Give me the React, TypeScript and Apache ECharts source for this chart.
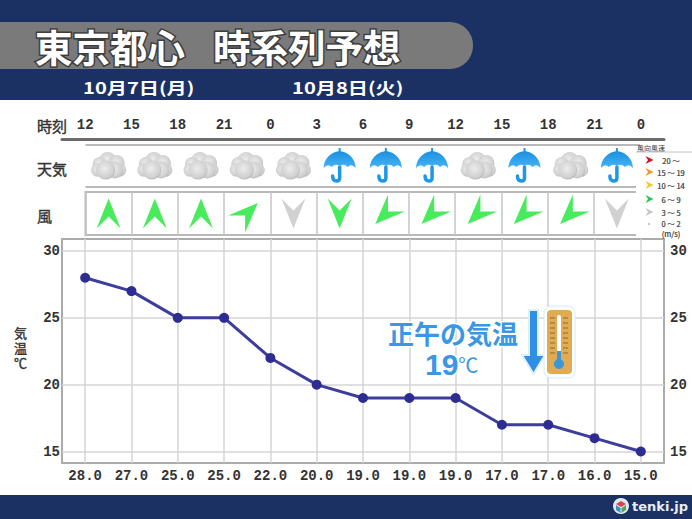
import React, { useEffect, useRef } from "react";
import * as echarts from "echarts";

const HOURS = ["12", "15", "18", "21", "0", "3", "6", "9", "12", "15", "18", "21", "0"];
const TEMPS = [28, 27, 25, 25, 22, 20, 19, 19, 19, 17, 17, 16, 15];
const TEMP_LABELS = ["28.0", "27.0", "25.0", "25.0", "22.0", "20.0", "19.0", "19.0", "19.0", "17.0", "17.0", "16.0", "15.0"];
const WEATHER = ["cloud", "cloud", "cloud", "cloud", "cloud", "rain", "rain", "rain", "cloud", "rain", "cloud", "rain"];
const WIND_DIR = [0, 0, 0, 45, 180, 180, 225, 225, 225, 225, 225, 180];
const WIND_CLASS = [3, 3, 3, 3, 4, 3, 3, 3, 3, 3, 3, 4];
const LEGEND_LABELS = ["20 ～", "15 ～ 19", "10 ～ 14", "6 ～ 9", "3 ～ 5", "0 ～ 2", "(m/s)"];
const LEGEND_COLORS = ["#c4161c", "#f0982a", "#f6c52c", "#22c94a", "#c6c6c6", "#c6c6c6"];
const WIND_COLORS = ["#c4161c", "#f0982a", "#f6c52c", "#19e632", "#c6c6c6", "#c6c6c6"];
const AXIS_TITLE = ["気", "温", "℃"];

const ARROW = "M0,-15 L12,15 L0,3 L-12,15 Z";
const JP = '"Noto Sans CJK JP", sans-serif';
const NUM = '"Liberation Mono", monospace';
const NAVY = "#1b3164";
const INK = "#333333";

const puff = (cx: number, cy: number, r: number) => ({
  type: "circle",
  shape: { cx, cy, r },
  style: {
    fill: new echarts.graphic.RadialGradient(0.45, 0.42, 0.7, [
      { offset: 0, color: "#ececec" },
      { offset: 0.7, color: "#cfcfcf" },
      { offset: 1, color: "#9c9c9c" },
    ]),
  },
});

const cloudIcon = (x: number, y: number) => ({
  type: "group",
  x,
  y,
  children: [
    puff(-1, -5, 9),
    puff(-9, -2, 7),
    puff(8, -3, 8),
    puff(-11, 4, 6.5),
    puff(11, 4, 6.5),
    puff(6, 4, 8.5),
    puff(-3, 4, 9.5),
  ],
});

const rainIcon = (x: number, y: number) => ({
  type: "group",
  x,
  y,
  children: [
    {
      type: "path",
      shape: { pathData: "M0,1 L0,12 Q0,15 -3,15 Q-7,15 -7,10" },
      style: { fill: "none", stroke: "#1f97e6", lineWidth: 3.5, lineCap: "round" },
    },
    {
      type: "path",
      shape: { pathData: "M0,-14 L0,-18" },
      style: { fill: "none", stroke: "#1f97e6", lineWidth: 2 },
    },
    {
      type: "path",
      shape: {
        pathData:
          "M-16,2 C-16,-7 -9,-14 0,-15 C9,-14 16,-7 16,2 Q12,-3 8,1 Q4,-3 0,0 Q-4,-3 -8,1 Q-12,-3 -16,2 Z",
      },
      style: {
        fill: new echarts.graphic.LinearGradient(0, 0, 0, 1, [
          { offset: 0, color: "#1a8fe0" },
          { offset: 1, color: "#47b4f5" },
        ]),
      },
    },
  ],
});

const text = (x: number, y: number, t: string, style: any, extra: any = {}) => ({
  type: "text",
  x,
  y,
  z: 20,
  ...extra,
  style: { text: t, verticalAlign: "middle", ...style },
});

const rowLine = (y: number, x2 = 640) => ({
  type: "line",
  shape: { x1: 85.5, y1: y, x2, y2: y },
  style: { stroke: "#b9b9b9", lineWidth: 2 },
});

function buildGraphics() {
  const legendY = [160, 172, 185, 199, 212, 223, 233];
  const arrowY = [160, 172, 185, 199, 212, 224];
  const titleY = [332, 347, 362];
  const rowLabel = { fill: INK, font: `15px ${JP}`, stroke: INK, lineWidth: 0.4 };
  return [
    { type: "rect", shape: { x: 0, y: 0, width: 692, height: 100 }, style: { fill: NAVY } },
    { type: "rect", shape: { x: 0, y: 495, width: 692, height: 24 }, style: { fill: NAVY } },
    {
      type: "rect",
      shape: { x: -30, y: 22, width: 503, height: 47, r: [0, 23, 23, 0] },
      style: { fill: "#7a7a7a" },
    },
    text(35, 45, "東京都心", {
      fill: "#fff", font: `bold 37.5px ${JP}`, stroke: "#3d3d3d", lineWidth: 3,
    }),
    text(213, 45, "時系列予想", {
      fill: "#fff", font: `bold 37.5px ${JP}`, stroke: "#3d3d3d", lineWidth: 3,
    }),
    text(83, 87, "10月7日(月)", { fill: "#fff", font: `bold 16px ${JP}` }, { scaleX: 1.26 }),
    text(292, 87, "10月8日(火)", { fill: "#fff", font: `bold 16px ${JP}` }, { scaleX: 1.26 }),
    text(37, 125, "時刻", rowLabel),
    text(37, 168, "天気", rowLabel),
    text(37, 215, "風", rowLabel),
    ...AXIS_TITLE.map((t, i) =>
      text(20.5, titleY[i], t, { fill: INK, font: `10px ${JP}`, align: "center", stroke: INK, lineWidth: 0.3 }, { scaleX: 1.3, scaleY: 1.3 })
    ),
    rowLine(145),
    rowLine(187),

    // wind-speed key
    { type: "rect", z: 10, shape: { x: 636, y: 146, width: 56, height: 92 }, style: { fill: "#fff" } },
    text(637, 148, "風向風速", { fill: INK, font: `7px ${JP}` }),
    { type: "line", z: 20, shape: { x1: 636, y1: 152, x2: 692, y2: 152 }, style: { stroke: "#c4c4c4", lineWidth: 1 } },
    ...LEGEND_LABELS.map((t, i) =>
      text(671, legendY[i], t, { fill: INK, font: `7.5px ${JP}`, align: "center", stroke: INK, lineWidth: 0.2 })
    ),
    ...LEGEND_COLORS.map((c, i) =>
      i < 5
        ? {
            type: "polygon", z: 20,
            shape: { points: [[653.5, arrowY[i]], [645.5, arrowY[i] - 4], [648, arrowY[i]], [645.5, arrowY[i] + 4]] },
            style: { fill: c },
          }
        : { type: "circle", z: 20, shape: { cx: 649, cy: arrowY[i], r: 1.2 }, style: { fill: c } }
    ),

    // noon annotation
    text(388, 332, "正午の気温", {
      fill: "#3a97e6", font: `bold 26px ${JP}`, stroke: "#fff", lineWidth: 3,
    }),
    text(425, 364, "{a|19}{b|℃}", {
      stroke: "#fff", lineWidth: 3,
      rich: {
        a: { fill: "#3a97e6", font: `bold 30px "Liberation Sans", sans-serif`, stroke: "#fff", lineWidth: 3 },
        b: { fill: "#3a97e6", font: `20px ${JP}`, stroke: "#fff", lineWidth: 3 },
      },
    }),
    {
      type: "polygon", z: 20,
      shape: { points: [[529, 310], [538, 310], [538, 355], [545, 355], [533.5, 374], [522, 355], [529, 355]] },
      style: { fill: "#2f8fe6", stroke: "#dff0f5", lineWidth: 2 },
    },
    { type: "rect", z: 20, shape: { x: 544, y: 306, width: 31, height: 72, r: 7 }, style: { fill: "#fff", stroke: "#d5ecf0", lineWidth: 1 } },
    { type: "rect", z: 21, shape: { x: 547, y: 310, width: 25, height: 64, r: 4 }, style: { fill: "#e0ab52" } },
    ...[318, 323, 328, 333, 338, 343, 348, 353].flatMap((y) => [
      { type: "line", z: 22, shape: { x1: 550, y1: y, x2: 555, y2: y }, style: { stroke: "#8c6a2c", lineWidth: 1 } },
      { type: "line", z: 22, shape: { x1: 563, y1: y, x2: 568, y2: y }, style: { stroke: "#8c6a2c", lineWidth: 1 } },
    ]),
    { type: "rect", z: 22, shape: { x: 557, y: 315, width: 4, height: 46, r: 2 }, style: { fill: "#fff" } },
    { type: "rect", z: 22, shape: { x: 557, y: 351, width: 4, height: 12 }, style: { fill: "#3a97d8" } },
    { type: "circle", z: 23, shape: { cx: 559, cy: 364, r: 5 }, style: { fill: "#3a97d8" } },

    // tenki.jp mark
    { type: "circle", z: 20, shape: { cx: 621, cy: 506, r: 8 }, style: { fill: "#dfe9ef" } },
    { type: "polygon", z: 21, shape: { points: [[621, 501], [626, 504], [621, 507], [616, 504]] }, style: { fill: "#d8444a" } },
    { type: "polygon", z: 21, shape: { points: [[616, 505], [620.5, 508], [620.5, 513], [616, 510]] }, style: { fill: "#3b8fc4" } },
    { type: "polygon", z: 21, shape: { points: [[626, 505], [621.5, 508], [621.5, 513], [626, 510]] }, style: { fill: "#5aa356" } },
    text(632, 506, "tenki.jp", { fill: "#e8eef2", font: `bold 13px "DejaVu Sans", sans-serif` }),
  ];
}

export default function App() {
  const ref = useRef<HTMLDivElement>(null);
  useEffect(() => {
    document.body.style.margin = "0";
    const chart = echarts.init(ref.current!, null, { renderer: "svg" });
    const numLabel = { color: INK, fontFamily: NUM, fontWeight: "bold" as const, fontSize: 14 };
    const hiddenAxis = { show: false };
    const slotAxis = (gridIndex: number, showSplit: boolean) => ({
      type: "value" as const, gridIndex, min: 0, max: 12, interval: 1,
      axisLine: { show: false }, axisTick: { show: false }, axisLabel: { show: false },
      splitLine: { show: showSplit, lineStyle: { color: "#c4c4c4", width: 1.5 } },
    });
    const tempAxis = (position: "left" | "right") => ({
      type: "value" as const, gridIndex: 4, position, min: 15, max: 30, interval: 5,
      axisLine: { show: false },
      axisTick: { show: false },
      axisLabel: { ...numLabel, margin: position === "left" ? 2 : 6 },
      splitLine: { show: position === "left", lineStyle: { color: "#d4d4d4", width: 1.5 } },
    });
    chart.setOption({
      animation: false,
      backgroundColor: "#ffffff",
      graphic: { elements: buildGraphics() },
      grid: [
        { left: 62, width: 602, top: 239, height: 224, show: true, borderColor: "#ababab", borderWidth: 2, backgroundColor: "#fff" },
        { left: 62, width: 602, top: 139, height: 1 },
        { left: 85.5, width: 554.5, top: 145, height: 42 },
        { left: 85.5, width: 554.5, top: 192, height: 43, show: true, borderColor: "#b9b9b9", borderWidth: 2, backgroundColor: "#fff" },
        { left: 62, width: 602, top: 251, height: 200.5 },
      ],
      xAxis: [
        {
          type: "category", gridIndex: 0, data: TEMP_LABELS, position: "bottom",
          axisLine: { show: false },
          axisTick: { show: false },
          axisLabel: { ...numLabel, margin: 6, interval: 0 },
          splitLine: { show: true, alignWithLabel: true, interval: 0, lineStyle: { color: "#d4d4d4", width: 1.5 } },
        },
        {
          type: "category", gridIndex: 1, data: HOURS, position: "top",
          axisLine: { onZero: false, lineStyle: { color: "#6b6b6b", width: 3 } },
          axisTick: { alignWithLabel: true, length: 3, interval: 0, lineStyle: { color: "#6b6b6b", width: 1.5 } },
          axisLabel: { ...numLabel, margin: 7, interval: 0 },
        },
        slotAxis(2, false),
        slotAxis(3, true),
        { type: "category", gridIndex: 4, data: TEMP_LABELS, ...hiddenAxis },
      ],
      yAxis: [
        { type: "value", gridIndex: 0, ...hiddenAxis },
        { type: "value", gridIndex: 1, ...hiddenAxis },
        { type: "value", gridIndex: 2, min: 0, max: 1, ...hiddenAxis },
        { type: "value", gridIndex: 3, min: 0, max: 1, ...hiddenAxis },
        tempAxis("left"),
        tempAxis("right"),
      ],
      series: [
        {
          type: "line", xAxisIndex: 4, yAxisIndex: 4, data: TEMPS,
          symbol: "circle", symbolSize: 10, showSymbol: true,
          lineStyle: { color: "#3d3d9c", width: 3 },
          itemStyle: { color: "#2c2c92" },
        },
        {
          type: "custom", xAxisIndex: 2, yAxisIndex: 2, coordinateSystem: "cartesian2d",
          data: WEATHER.map((_, i) => [i + 0.5, 0.5]),
          renderItem: (params: any, api: any) => {
            const [x, y] = api.coord([api.value(0), api.value(1)]);
            return WEATHER[params.dataIndex] === "cloud" ? cloudIcon(x, y) : rainIcon(x, y);
          },
        },
        {
          type: "scatter", xAxisIndex: 3, yAxisIndex: 3,
          symbol: `path://${ARROW}`, symbolSize: [24, 30],
          data: WIND_DIR.map((d, i) => ({
            value: [i + 0.5, 0.5],
            symbolRotate: -d,
            itemStyle: { color: WIND_COLORS[WIND_CLASS[i]] },
          })),
        },
      ],
    });
    return () => chart.dispose();
  }, []);
  return <div ref={ref} style={{ width: 692, height: 519 }} />;
}
